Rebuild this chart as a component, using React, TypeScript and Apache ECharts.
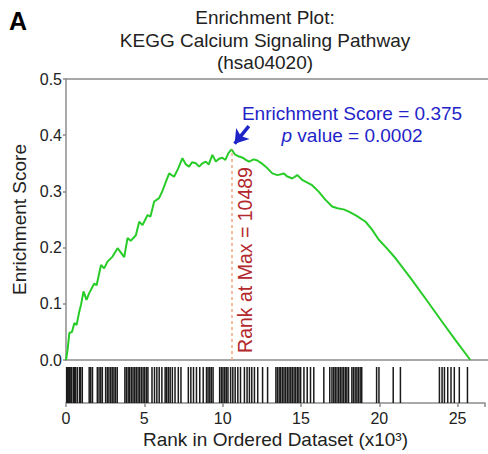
import React, { useEffect, useRef } from "react";
import * as echarts from "echarts";

// Running enrichment score curve (rank in thousands, ES)
const esRank = [
  0, 0.1, 0.21, 0.38, 0.53, 0.67, 0.84, 0.95, 1.11, 1.3, 1.47, 1.79, 1.94, 2.22, 2.42,
  2.63, 2.95, 3.27, 3.69, 3.9, 4.1, 4.43, 4.64, 4.85, 5.17, 5.35, 5.59, 5.9, 6.1, 6.33,
  6.54, 6.85, 7.1, 7.38, 7.6, 7.8, 8.0, 8.23, 8.44, 8.65, 8.86, 9.05, 9.28, 9.5, 9.7,
  9.91, 10.1, 10.3, 10.489, 10.7, 10.97, 11.2, 11.4, 11.6, 11.9, 12.13, 12.4, 12.66,
  13.08, 13.4, 13.82, 14.0, 14.34, 14.66, 15.0, 15.6, 16.0, 16.45, 16.87, 17.2, 17.6,
  17.93, 18.4, 18.99, 19.4, 19.83, 20.3, 20.89, 21.4, 21.94, 22.9, 23.84, 24.7, 25.63,
];
const esScore = [
  0, 0.018, 0.048, 0.05, 0.066, 0.062, 0.086, 0.098, 0.122, 0.107, 0.119, 0.136, 0.133,
  0.169, 0.163, 0.175, 0.184, 0.199, 0.183, 0.217, 0.212, 0.222, 0.246, 0.24, 0.258,
  0.255, 0.282, 0.288, 0.3, 0.317, 0.332, 0.326, 0.34, 0.359, 0.348, 0.344, 0.352, 0.35,
  0.344, 0.35, 0.353, 0.348, 0.365, 0.353, 0.358, 0.36, 0.356, 0.368, 0.375, 0.366,
  0.362, 0.36, 0.356, 0.353, 0.357, 0.355, 0.35, 0.344, 0.332, 0.329, 0.332, 0.327,
  0.323, 0.329, 0.32, 0.311, 0.3, 0.285, 0.273, 0.27, 0.268, 0.264, 0.257, 0.246, 0.232,
  0.214, 0.2, 0.181, 0.162, 0.142, 0.105, 0.068, 0.035, 0.0,
];

// Gene set hits (rank in thousands)
const hitRanks = [
  0.04, 0.09, 0.18, 0.22, 0.31, 0.36, 0.47, 0.55, 0.61, 0.72, 0.86, 0.93, 1.04,
  1.48, 1.58, 1.69, 2.0, 2.11, 2.22, 2.32, 2.53, 2.64, 2.74, 2.85, 2.95, 3.06, 3.16, 3.27,
  3.76, 3.86, 3.97, 4.07, 4.18, 4.28, 4.39, 4.49, 4.6, 4.7, 4.81, 4.92, 5.02, 5.13, 5.23,
  5.49, 5.65, 5.8, 5.95, 6.12, 6.33, 6.43, 6.54, 6.65, 6.79, 6.96, 7.17, 7.34,
  7.81, 7.97, 8.14, 8.33, 8.54, 8.76, 8.97, 9.07, 9.18, 9.28, 9.39,
  9.81, 9.92, 10.02, 10.13, 10.23, 10.34, 10.51, 10.65, 10.8, 10.97, 11.14,
  11.39, 11.56, 11.71, 11.86, 12.03, 12.24, 12.55, 12.87,
  13.4, 13.5, 13.61, 13.71, 13.82, 13.92, 14.03, 14.14, 14.24, 14.35, 14.45, 14.56,
  14.66, 14.77, 14.87, 14.98, 15.19, 15.4, 15.61, 15.82, 16.46,
  16.84, 16.98, 17.09, 17.19, 17.3, 17.41, 17.51, 17.62, 17.72, 17.83, 17.93, 18.04,
  18.25, 18.35, 18.46, 18.57, 18.67, 18.78, 18.88, 19.83, 19.98, 20.89, 21.35,
  23.84, 24.01, 24.16, 24.37, 24.58, 24.79, 25.11, 25.63,
];

const titleLines = ["Enrichment Plot:", "KEGG Calcium Signaling Pathway", "(hsa04020)"];
const peakRank = 10.489;
const peakScore = 0.375;
const esLabel = "Enrichment Score = 0.375";
const pLabel = "{i|p} value = 0.0002";
const rankLabel = "Rank at Max = 10489";
const yName = "Enrichment Score";
const xName = "Rank in Ordered Dataset (x10³)";

const XMAX = 26.75;
const FONT = "Liberation Sans, Arial, sans-serif";
const AXIS = "#8c8c8c";
const TXT = "#222";

export default function App() {
  const ref = useRef<HTMLDivElement>(null);
  useEffect(() => {
    const chart = echarts.init(ref.current!, null, { renderer: "svg" });
    const axisLine = { show: true, onZero: false, lineStyle: { color: AXIS, width: 1.5 } };
    chart.setOption({
      animation: false,
      textStyle: { fontFamily: FONT },
      grid: [
        { left: 66, top: 79, right: 0, height: 281 },
        { left: 66, top: 367, right: 0, height: 36 },
      ],
      xAxis: [
        {
          gridIndex: 0, type: "value", min: 0, max: XMAX, position: "bottom",
          axisLine, axisTick: { show: false }, axisLabel: { show: false }, splitLine: { show: false },
        },
        {
          gridIndex: 0, type: "value", min: 0, max: XMAX, position: "top",
          axisLine, axisTick: { show: false }, axisLabel: { show: false }, splitLine: { show: false },
        },
        {
          gridIndex: 1, type: "value", min: 0, max: XMAX, interval: 5, position: "bottom",
          axisLine,
          axisTick: { show: true, length: 4, lineStyle: { color: AXIS, width: 1.5 } },
          axisLabel: {
            fontSize: 16, color: TXT, margin: 7, fontFamily: FONT,
            formatter: (v: number) => (Math.abs(v % 5) < 1e-9 ? String(v) : ""),
          },
          splitLine: { show: false },
          name: xName, nameLocation: "middle", nameGap: 27,
          nameTextStyle: { fontSize: 19, color: TXT, fontFamily: FONT },
        },
      ],
      yAxis: [
        {
          gridIndex: 0, type: "value", min: 0, max: 0.5, interval: 0.1,
          axisLine,
          axisTick: { show: true, length: 3, lineStyle: { color: AXIS, width: 1.5 } },
          axisLabel: {
            fontSize: 16, color: TXT, margin: 4, fontFamily: FONT,
            formatter: (v: number) => v.toFixed(1),
          },
          splitLine: { show: false },
          name: yName, nameLocation: "middle", nameGap: 37,
          nameTextStyle: { fontSize: 19, color: TXT, fontFamily: FONT },
        },
        { gridIndex: 1, type: "value", min: 0, max: 1, show: false },
      ],
      series: [
        {
          type: "line",
          xAxisIndex: 0,
          yAxisIndex: 0,
          data: esRank.map((r, i) => [r, esScore[i]]),
          showSymbol: false,
          symbol: "none",
          lineStyle: { color: "#28cc28", width: 2 },
          z: 3,
          markLine: {
            silent: true,
            symbol: "none",
            label: { show: false },
            data: [
              [
                { coord: [peakRank, 0], symbol: "none", lineStyle: { color: "#f4a582", width: 1.5, type: [3, 3] } },
                { coord: [peakRank, peakScore], symbol: "none" },
              ],
              [
                { coord: [11.59, 0.416], symbol: "none", lineStyle: { color: "#1f24c8", width: 3.5, type: "solid" } },
                { coord: [10.69, 0.385], symbol: "arrow", symbolSize: [13, 13] },
              ],
            ],
          },
        },
        {
          type: "custom",
          xAxisIndex: 2,
          yAxisIndex: 1,
          data: hitRanks.map((r) => [r, 1]),
          encode: { x: 0, y: 1 },
          renderItem: (_params: any, api: any) => {
            const x = api.value(0);
            const p0 = api.coord([x, 0]);
            const p1 = api.coord([x, 1]);
            return {
              type: "line",
              shape: { x1: p0[0], y1: p0[1], x2: p1[0], y2: p1[1] },
              style: { stroke: "#1a1a1a", lineWidth: 1.5 },
            };
          },
        },
      ],
      graphic: [
        {
          type: "text", left: 9, top: 8,
          style: { text: "A", fontSize: 25, fontWeight: 900, fontFamily: FONT, fill: "#000" },
        },
        ...titleLines.map((t, i) => ({
          type: "text", x: 265, y: [17.5, 40, 62.5][i],
          style: { text: t, fontSize: 19, fontFamily: FONT, fill: TXT, align: "center", verticalAlign: "middle" },
        })),
        {
          type: "text", x: 352, y: 113,
          style: { text: esLabel, fontSize: 19, fontFamily: FONT, fill: "#1f24c8", align: "center", verticalAlign: "middle" },
        },
        {
          type: "text", x: 352, y: 135,
          style: {
            text: pLabel, fontSize: 19, fontFamily: FONT, fill: "#1f24c8", align: "center", verticalAlign: "middle",
            rich: {
              i: { fontSize: 19, fontFamily: FONT, fill: "#1f24c8", fontStyle: "italic" },
            },
          },
        },
        {
          type: "text", x: 245, y: 260, rotation: Math.PI / 2,
          style: { text: rankLabel, fontSize: 19.5, fontFamily: FONT, fill: "#b3282d", align: "center", verticalAlign: "middle" },
        },
      ],
    });
    return () => chart.dispose();
  }, []);
  return (
    <div
      ref={ref}
      style={{ position: "fixed", left: 0, top: 0, width: 488, height: 454, background: "#fff" }}
    />
  );
}
